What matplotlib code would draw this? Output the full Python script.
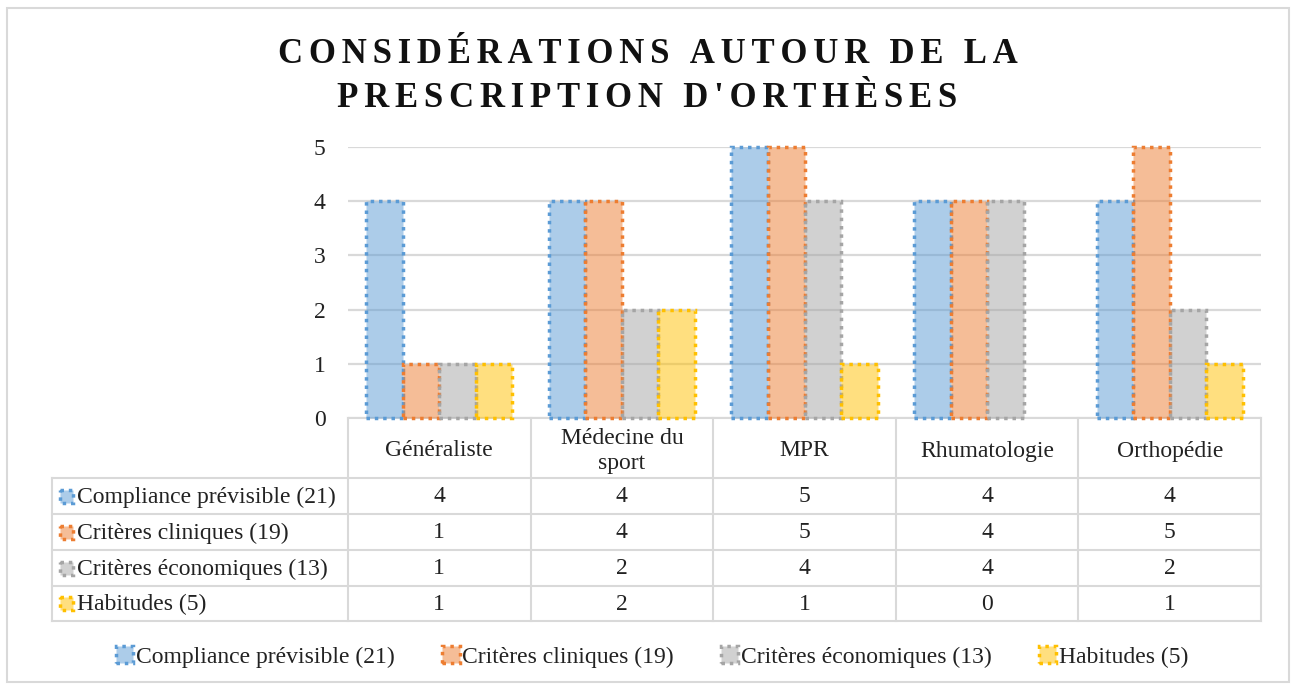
import matplotlib
matplotlib.use('Agg')
import matplotlib.pyplot as plt
import numpy as np
from matplotlib.patches import Rectangle, Patch
from matplotlib.colors import to_rgba

plt.rcParams['font.family'] = ['Liberation Serif', 'DejaVu Serif']

categories = ['Généraliste', 'Médecine du\nsport', 'MPR', 'Rhumatologie', 'Orthopédie']
series = ['Compliance prévisible (21)', 'Critères cliniques (19)',
          'Critères économiques (13)', 'Habitudes (5)']
compliance = [4, 4, 5, 4, 4]
cliniques = [1, 4, 5, 4, 5]
economiques = [1, 2, 4, 4, 2]
habitudes = [1, 2, 1, 0, 1]
values = [compliance, cliniques, economiques, habitudes]
colors = ['#5B9BD5', '#ED7D31', '#A5A5A5', '#FFC000']
title_lines = ["CONSIDÉRATIONS AUTOUR DE LA", "PRESCRIPTION D'ORTHÈSES"]

W, H = 1295, 686
fig = plt.figure(figsize=(W / 100, H / 100), dpi=100)

# overlay in pixel coordinates for frame, table and title
ov = fig.add_axes([0, 0, 1, 1])
ov.set_xlim(0, W)
ov.set_ylim(H, 0)
ov.axis('off')

x0, x1 = 348, 1261
ytop, ybot = 147, 418
ax = fig.add_axes([x0 / W, 1 - ybot / H, (x1 - x0) / W, (ybot - ytop) / H])
ax.set_xlim(-0.5, len(categories) - 0.5)
ax.set_ylim(0, 5)
ax.set_facecolor('none')
for s in ax.spines.values():
    s.set_visible(False)
ax.set_xticks([])
ax.set_yticks(range(6))
ax.tick_params(axis='y', length=0, pad=16, labelsize=17, labelcolor='#222222')
ax.yaxis.grid(True, color='#D9D9D9', lw=1.6)
ax.set_axisbelow(True)

gc = '#D9D9D9'
dots = (0, (1, 1.4))
x = np.arange(len(categories))
bw = 0.2
for i, (vals, c) in enumerate(zip(values, colors)):
    edges = [c if v > 0 else 'none' for v in vals]
    ax.bar(x + (i - 1.5) * bw, vals, bw, facecolor=to_rgba(c, 0.5),
           edgecolor=edges, linewidth=2.5, linestyle=dots, clip_on=False, zorder=3)

# frame
ov.add_patch(Rectangle((7, 8), 1282, 674, fill=False, ec=gc, lw=1.5))

# title with letter spacing
gap = '\u200a\u200a'
for k, line in enumerate(title_lines):
    spaced = gap.join(line)
    ov.text(W / 2, 63 + k * 44, spaced, ha='center', va='baseline',
            fontsize=25, fontweight='bold', color='#111111')

# data table
cw = (x1 - x0) / len(categories)
col_edges = x0 + np.arange(len(categories) + 1) * cw
tl = 52
row_edges = [418, 478, 514, 550, 586, 621]
lw_t = 1.5
ov.plot([x0, x1], [row_edges[0], row_edges[0]], color=gc, lw=lw_t)
for xe in col_edges:
    ov.plot([xe, xe], [row_edges[0], row_edges[-1]], color=gc, lw=lw_t)
ov.plot([tl, tl], [row_edges[1], row_edges[-1]], color=gc, lw=lw_t)
for ye in row_edges[1:]:
    ov.plot([tl, x1], [ye, ye], color=gc, lw=lw_t)

fs = 17
for j, cat in enumerate(categories):
    cx = (col_edges[j] + col_edges[j + 1]) / 2
    ov.text(cx, (row_edges[0] + row_edges[1]) / 2 + 3, cat, ha='center', va='center',
            fontsize=fs, color='#222222', linespacing=1.25)
for i, (name, vals, c) in enumerate(zip(series, values, colors)):
    cy = (row_edges[i + 1] + row_edges[i + 2]) / 2
    ov.add_patch(Rectangle((60, cy - 6.5), 13, 13, facecolor=to_rgba(c, 0.5),
                           edgecolor=c, lw=2.5, linestyle=dots))
    ov.text(77, cy + 1, name, ha='left', va='center', fontsize=fs, color='#222222')
    for j, v in enumerate(vals):
        cx = (col_edges[j] + col_edges[j + 1]) / 2
        ov.text(cx, cy + 1, str(v), ha='center', va='center', fontsize=fs, color='#222222')

# legend
handles = [Patch(facecolor=to_rgba(c, 0.5), edgecolor=c, lw=2.5, linestyle=dots)
           for c in colors]
fig.legend(handles, series, loc='center', bbox_to_anchor=(652 / W, 1 - 657 / H),
           ncol=4, frameon=False, fontsize=fs, handlelength=0.75, handleheight=0.75,
           handletextpad=0.1, columnspacing=2.0, labelcolor='#222222')

fig.savefig('out.png', dpi=100)
